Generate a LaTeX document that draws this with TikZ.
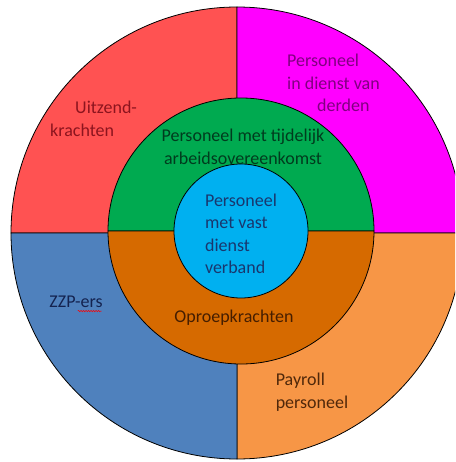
\documentclass[tikz,border=0pt]{standalone}
\usepackage{fontspec}
\setmainfont{Carlito}
\usetikzlibrary{decorations.pathmorphing}
\definecolor{uitred}{RGB}{255,82,82}
\definecolor{derdmag}{RGB}{255,0,255}
\definecolor{zzpblue}{RGB}{79,129,189}
\definecolor{payorange}{RGB}{247,150,70}
\definecolor{tijdgreen}{RGB}{0,170,80}
\definecolor{oproep}{RGB}{214,106,0}
\definecolor{vastblue}{RGB}{0,176,240}
\begin{document}
\begin{tikzpicture}[x=1pt,y=-1pt,
    ring/.style={draw=black, line width=0.8pt},
    lbl/.style={font=\fontsize{18}{22.5}\selectfont, inner sep=0pt, align=center}]
  \useasboundingbox (0,0) rectangle (455,462);
  \clip (0,0) rectangle (455,462);
  \fill [white] (0,0) rectangle (455,462);
  \coordinate (O) at (237,233);
  \coordinate (M) at (241,231);
  % outer ring
  \filldraw [ring, fill=uitred] (O) -- ++(180:226pt) arc[start angle=180, end angle=90, radius=226pt] -- cycle;
  \filldraw [ring, fill=derdmag] (O) -- ++(90:226pt) arc[start angle=90, end angle=0, radius=226pt] -- cycle;
  \filldraw [ring, fill=payorange] (O) -- ++(0:226pt) arc[start angle=0, end angle=-90, radius=226pt] -- cycle;
  \filldraw [ring, fill=zzpblue] (O) -- ++(-90:226pt) arc[start angle=-90, end angle=-180, radius=226pt] -- cycle;
  % middle ring
  \filldraw [ring, fill=tijdgreen] (M) -- ++(0:133pt) arc[start angle=0, end angle=180, radius=133pt] -- cycle;
  \filldraw [ring, fill=oproep] (M) -- ++(180:133pt) arc[start angle=180, end angle=360, radius=133pt] -- cycle;
  % centre
  \filldraw [ring, fill=vastblue] (M) circle (67pt);

  \node [lbl, align=left, anchor=west, text={rgb,255:red,140;green,20;blue,30}] (uitzend) at (50,119) {\hspace*{25pt}Uitzend-\\krachten};
  \node [lbl, align=left, anchor=west, text={rgb,255:red,128;green,0;blue,128}] (derden) at (287,83) {Personeel\\in dienst van\\\hspace*{30pt}derden};
  \node [lbl, text={rgb,255:red,0;green,60;blue,30}] (tijdelijk) at (243,147) {Personeel met tijdelijk\\arbeidsovereenkomst};
  \node [lbl, align=left, text={rgb,255:red,25;green,55;blue,110}] (vast) at (241,234) {Personeel\\met vast\\dienst\\verband};
  \node [lbl, text={rgb,255:red,20;green,35;blue,80}] (zzp) at (76,302) {ZZP-ers};
  \node [lbl, text={rgb,255:red,70;green,30;blue,0}] (oproepk) at (234,318) {Oproepkrachten};
  \node [lbl, align=left, text={rgb,255:red,80;green,40;blue,10}] (payroll) at (312,392) {Payroll\\personeel};
  \draw [red, line width=0.5pt, decorate, decoration={snake, amplitude=0.7pt, segment length=2.5pt}] (zzp.south east) ++(-25,3) -- ++(24,0);
\end{tikzpicture}
\end{document}
